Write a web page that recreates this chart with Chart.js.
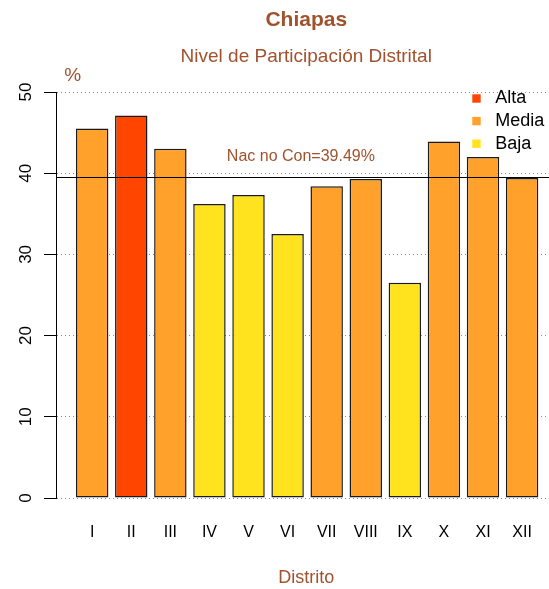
<!DOCTYPE html>
<html>
<head>
<meta charset="utf-8">
<script src="https://cdn.jsdelivr.net/npm/chart.js@4.4.1/dist/chart.umd.min.js"></script>
<style>
  html, body { margin: 0; padding: 0; background: #fff; }
  #wrap { width: 549px; height: 589px; }
</style>
</head>
<body>
<div id="wrap"><canvas id="participacion"></canvas></div>
<script>
// datos
const distritos = ['I', 'II', 'III', 'IV', 'V', 'VI', 'VII', 'VIII', 'IX', 'X', 'XI', 'XII'];
const participacion = [45.5, 47.1, 43.0, 36.2, 37.3, 32.5, 38.4, 39.3, 26.5, 43.9, 42.0, 39.4];
const nivelDistrito = ['Media', 'Alta', 'Media', 'Baja', 'Baja', 'Baja', 'Media', 'Media', 'Baja', 'Media', 'Media', 'Media'];
const niveles = ['Alta', 'Media', 'Baja'];
const coloresNivel = ['#FF4500', '#FFA12A', '#FFE31F'];
const yTicks = [0, 10, 20, 30, 40, 50];
const promedioNacional = 39.49;
const etiquetaPromedio = 'Nac no Con=' + promedioNacional + '%';

const siena = '#A0522D';
Chart.defaults.font.family = "'Liberation Sans', Arial, sans-serif";
Chart.defaults.color = '#000';

var colores = nivelDistrito.map(n => coloresNivel[niveles.indexOf(n)]);
var puntos = participacion.map((v, i) => ({x: i + 1, y: v}));

// la region de la grafica en R sigue unos px mas alla del borde derecho
var extender = {
    id: 'extender',
    afterLayout(chart) {
        const extra = 9;
        chart.chartArea.right += extra;
        chart.chartArea.width += extra;
        chart.boxes.forEach(b => {
            if (!b.fullSize && b.isHorizontal && b.isHorizontal()) {
                b.right += extra;
                b.width += extra;
                if (b.configure) b.configure();
            }
        });
    }
};

// linea nacional, leyenda y el "%" de la esquina
var extras = {
    id: 'extras',
    afterDatasetsDraw(chart) {
        const ctx = chart.ctx;
        const area = chart.chartArea;
        const ys = chart.scales.y;
        const yPix = ys.getPixelForValue(promedioNacional);

        ctx.save();
        ctx.strokeStyle = '#000';
        ctx.lineWidth = 1;
        ctx.beginPath();
        ctx.moveTo(area.left, Math.round(yPix) + 0.5);
        ctx.lineTo(area.right, Math.round(yPix) + 0.5);
        ctx.stroke();

        ctx.fillStyle = siena;
        ctx.font = "16px 'Liberation Sans', Arial, sans-serif";
        ctx.textAlign = 'center';
        ctx.textBaseline = 'middle';
        ctx.fillText(etiquetaPromedio, chart.scales.x.getPixelForValue(6.34), yPix - 20.5);

        ctx.font = "19px 'Liberation Sans', Arial, sans-serif";
        ctx.fillText('%', area.left + 16.7, area.top - 16.5);

        ctx.font = "18px 'Liberation Sans', Arial, sans-serif";
        ctx.textAlign = 'left';
        niveles.forEach((n, i) => {
            const cy = area.top + 6.5 + i * 22.6;
            ctx.fillStyle = coloresNivel[i];
            ctx.fillRect(area.right - 84.2, cy - 4.2, 8.4, 8.4);
            ctx.fillStyle = '#000';
            ctx.fillText(n, area.right - 61.3, cy);
        });
        ctx.restore();
    }
};

var chart = new Chart(document.getElementById('participacion'), {
    type: 'bar',
    data: {
        datasets: [{
            data: puntos,
            backgroundColor: colores,
            borderColor: '#1a1a1a',
            borderWidth: 1.5,
            borderSkipped: false,
            barPercentage: 0.83,
            categoryPercentage: 1
        }]
    },
    options: {
        responsive: true,
        maintainAspectRatio: false,
        animation: false,
        layout: { padding: { left: 6.6, right: 0, top: 0, bottom: 0 } },
        plugins: {
            legend: { display: false },
            tooltip: { enabled: false },
            title: {
                display: true,
                text: 'Chiapas',
                color: siena,
                fullSize: false,
                font: { size: 21, weight: 'bold' },
                padding: { top: 7.4, bottom: 4 }
            },
            subtitle: {
                display: true,
                text: 'Nivel de Participación Distrital',
                color: siena,
                fullSize: false,
                font: { size: 19, weight: 'normal' },
                padding: { top: 8.7, bottom: 23.9 }
            }
        },
        scales: {
            x: {
                type: 'linear',
                offset: false,
                min: 0.074,
                max: 12.88,
                afterBuildTicks: s => { s.ticks = distritos.map((d, i) => ({value: i + 1})); },
                ticks: {
                    autoSkip: false,
                    maxRotation: 0,
                    padding: 25.4,
                    color: '#000',
                    font: { size: 16 },
                    callback: v => distritos[v - 1] || ''
                },
                grid: { display: false, drawTicks: false },
                border: { display: false },
                title: {
                    display: true,
                    text: 'Distrito',
                    color: siena,
                    font: { size: 18 },
                    padding: { top: -0.6, bottom: 0 }
                }
            },
            y: {
                min: 0,
                max: 50,
                afterBuildTicks: s => { s.ticks = yTicks.map(v => ({value: v})); },
                ticks: {
                    minRotation: 90,
                    maxRotation: 90,
                    crossAlign: 'center',
                    padding: 8.5,
                    color: '#000',
                    font: { size: 17 }
                },
                grid: {
                    color: '#8a8a8a',
                    tickColor: '#000',
                    tickLength: 12,
                    tickBorderDash: [],
                    lineWidth: 1
                },
                border: { display: true, color: '#000', width: 1, dash: [1, 3] }
            }
        }
    },
    plugins: [extender, extras]
});
</script>
</body>
</html>
